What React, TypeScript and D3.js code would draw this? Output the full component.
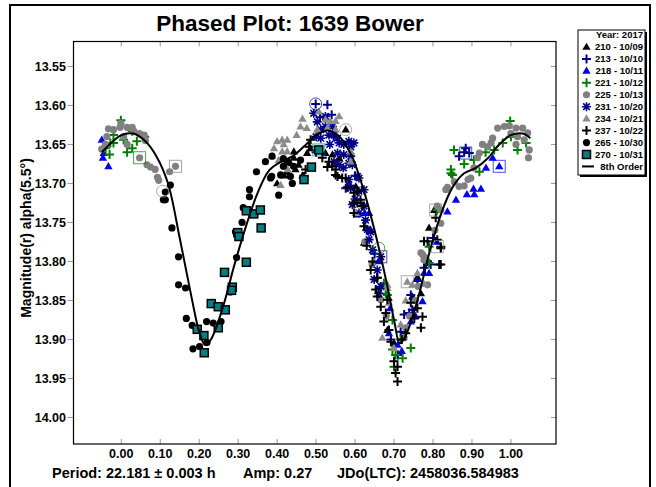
import React from "react";
import * as d3 from "d3";

// ---- data: phase (0..1) and reduced magnitude per session ----
const xTicks = [0, 0.1, 0.2, 0.3, 0.4, 0.5, 0.6, 0.7, 0.8, 0.9, 1.0];
const yTicks = [13.55, 13.6, 13.65, 13.7, 13.75, 13.8, 13.85, 13.9, 13.95, 14.0];

const s210: [number, number][] = [
  [0.443, 13.659], [0.443, 13.667], [0.434, 13.674], [0.447, 13.682], [0.477, 13.661], [0.486, 13.655],
  [0.426, 13.685], [0.576, 13.631], [0.524, 13.661], [0.542, 13.663], [0.602, 13.704], [0.623, 13.776],
  [0.79, 13.757], [0.747, 13.845], [0.769, 13.841], [0.683, 13.888], [0.803, 13.734], [0.455, 13.676],
  [0.465, 13.69], [0.418, 13.69], [0.4, 13.7], [0.56, 13.668], [0.64, 13.76], [0.76, 13.82], [0.7, 13.905],
];
const s213: [number, number][] = [
  [0.499, 13.598], [0.529, 13.599], [0.576, 13.706], [0.614, 13.725], [0.884, 13.655], [0.88, 13.66],
  [0.867, 13.665], [0.893, 13.661], [0.777, 13.808], [0.726, 13.868], [0.739, 13.866], [0.747, 13.862],
  [0.717, 13.89], [0.743, 13.843], [0.657, 13.821], [0.666, 13.834], [0.692, 13.9], [0.794, 13.804],
  [0.51, 13.615], [0.54, 13.612], [0.6, 13.69], [0.63, 13.76], [0.65, 13.79], [0.76, 13.825],
  [0.785, 13.8], [0.8, 13.77], [0.71, 13.92], [0.545, 13.64],
];
const s218: [number, number][] = [
  [-0.047, 13.667], [-0.033, 13.678], [-0.05, 13.644], [-0.045, 13.661], [0.97, 13.678], [0.887, 13.714],
  [0.906, 13.714], [0.923, 13.707], [0.904, 13.707], [0.953, 13.667], [0.936, 13.68], [0.859, 13.721],
  [0.837, 13.736], [0.79, 13.815], [0.636, 13.738], [0.743, 13.877], [0.773, 13.851], [0.777, 13.815],
  [0.687, 13.892], [0.709, 13.907], [0.606, 13.74], [0.625, 13.738], [0.755, 13.87], [0.72, 13.915],
  [0.81, 13.775], [0.66, 13.8], [0.585, 13.7], [0.69, 13.86],
];
const s221: [number, number][] = [
  [-0.001, 13.619], [-0.02, 13.638], [0.006, 13.644], [0.028, 13.633], [0.04, 13.646], [0.015, 13.66],
  [0.028, 13.655], [-0.028, 13.648], [-0.03, 13.663], [-0.02, 13.648], [0.998, 13.62], [1.017, 13.657],
  [1.039, 13.648], [0.854, 13.657], [0.979, 13.648], [0.957, 13.657], [0.846, 13.682], [0.85, 13.689],
  [0.919, 13.685], [0.811, 13.734], [0.674, 13.83], [0.683, 13.843], [0.79, 13.781], [0.846, 13.687],
  [0.674, 13.828], [0.679, 13.841], [0.696, 13.875], [0.696, 13.913], [0.704, 13.92], [0.722, 13.924],
  [0.743, 13.911], [0.717, 13.9], [0.79, 13.802], [0.7, 13.935], [0.88, 13.675], [0.905, 13.67],
  [0.935, 13.66], [1.0, 13.64], [0.06, 13.64], [-0.04, 13.655],
];
const s225: [number, number][] = [
  [-0.033, 13.63], [-0.02, 13.631], [-0.003, 13.628], [-0.001, 13.623], [0.015, 13.628], [0.028, 13.628],
  [0.032, 13.633], [0.047, 13.636], [0.059, 13.638], [0.062, 13.645], [0.006, 13.64], [0.015, 13.65],
  [-0.041, 13.65], [-0.05, 13.656], [-0.037, 13.64], [0.047, 13.667], [0.066, 13.676], [0.075, 13.679],
  [0.087, 13.682], [0.093, 13.692], [0.096, 13.696], [0.124, 13.685], [0.139, 13.678],
  [0.966, 13.629], [0.983, 13.627], [0.996, 13.626], [1.013, 13.629], [1.03, 13.629], [1.043, 13.635],
  [1.0, 13.636], [1.017, 13.64], [1.034, 13.644], [1.047, 13.657], [1.045, 13.667], [1.013, 13.65],
  [0.953, 13.642], [0.949, 13.648], [0.94, 13.653], [0.927, 13.65], [0.919, 13.661], [0.914, 13.667],
  [0.897, 13.693], [0.88, 13.703], [0.867, 13.704], [0.837, 13.705], [0.833, 13.708], [0.82, 13.734],
  [0.82, 13.751], [0.773, 13.791], [0.777, 13.798], [0.811, 13.729], [0.769, 13.789], [0.781, 13.795],
  [0.786, 13.83], [0.762, 13.832], [0.644, 13.804], [0.666, 13.849], [0.726, 13.898], [0.905, 13.68],
  [0.89, 13.695], [0.855, 13.698], [0.805, 13.76], [0.755, 13.85], [0.74, 13.87], [0.73, 13.885],
  [0.68, 13.87], [0.625, 13.775],
];
const s231: [number, number][] = [
  [0.494, 13.61], [0.503, 13.621], [0.512, 13.631], [0.524, 13.614], [0.524, 13.627], [0.542, 13.627],
  [0.533, 13.638], [0.546, 13.638], [0.555, 13.642], [0.559, 13.648], [0.571, 13.65], [0.584, 13.646],
  [0.589, 13.653], [0.597, 13.648], [0.555, 13.661], [0.571, 13.663], [0.589, 13.665], [0.584, 13.674],
  [0.593, 13.676], [0.606, 13.691], [0.61, 13.693], [0.584, 13.695], [0.546, 13.672], [0.559, 13.676],
  [0.512, 13.642], [0.589, 13.706], [0.61, 13.71], [0.623, 13.708], [0.593, 13.727], [0.623, 13.729],
  [0.61, 13.738], [0.627, 13.747], [0.632, 13.759], [0.64, 13.762], [0.636, 13.772], [0.666, 13.794],
  [0.657, 13.811], [0.649, 13.823], [0.666, 13.832], [0.661, 13.841], [0.5, 13.64], [0.535, 13.65],
  [0.57, 13.68], [0.6, 13.72], [0.645, 13.785],
];
const s234: [number, number][] = [
  [0.465, 13.617], [0.46, 13.627], [0.476, 13.629], [0.45, 13.638], [0.426, 13.644], [0.413, 13.644],
  [0.4, 13.646], [0.392, 13.655], [0.417, 13.65], [0.426, 13.659], [0.413, 13.659], [0.387, 13.665],
  [0.404, 13.67], [0.417, 13.674], [0.409, 13.702], [0.427, 13.682], [0.507, 13.608], [0.524, 13.618],
  [0.537, 13.62], [0.559, 13.614], [0.55, 13.62], [0.503, 13.631], [0.529, 13.629], [0.55, 13.631],
  [0.589, 13.659], [0.589, 13.672], [0.602, 13.738], [0.683, 13.83], [0.687, 13.847], [0.734, 13.826],
  [0.683, 13.834], [0.687, 13.853], [0.67, 13.898], [0.717, 13.881], [0.777, 13.829], [0.747, 13.83],
  [0.7, 13.911], [0.76, 13.815], [0.73, 13.85],
];
const s237: [number, number][] = [
  [0.486, 13.644], [0.516, 13.667], [0.533, 13.672], [0.529, 13.679], [0.542, 13.678], [0.55, 13.682],
  [0.555, 13.691], [0.567, 13.693], [0.473, 13.682], [0.469, 13.691], [0.482, 13.653], [0.606, 13.71],
  [0.614, 13.721], [0.597, 13.725], [0.619, 13.729], [0.55, 13.689], [0.576, 13.693], [0.597, 13.712],
  [0.606, 13.725], [0.597, 13.738], [0.623, 13.755], [0.64, 13.811], [0.657, 13.821], [0.653, 13.836],
  [0.786, 13.774], [0.811, 13.772], [0.82, 13.783], [0.816, 13.804], [0.773, 13.871], [0.769, 13.885],
  [0.752, 13.873], [0.743, 13.853], [0.73, 13.892], [0.683, 13.849], [0.657, 13.845], [0.666, 13.858],
  [0.679, 13.866], [0.674, 13.877], [0.687, 13.888], [0.692, 13.903], [0.709, 13.935], [0.704, 13.943],
  [0.709, 13.954], [0.7, 13.928], [0.777, 13.774], [0.82, 13.781], [0.82, 13.804], [0.807, 13.744],
  [0.5, 13.66], [0.58, 13.705], [0.63, 13.78], [0.645, 13.8], [0.76, 13.86], [0.72, 13.9],
];
const s265: [number, number][] = [
  [0.126, 13.702], [0.108, 13.721], [0.13, 13.757], [0.147, 13.794], [0.147, 13.83], [0.165, 13.834],
  [0.167, 13.873], [0.182, 13.882], [0.201, 13.909], [0.184, 13.912], [0.22, 13.904], [0.219, 13.877],
  [0.236, 13.879], [0.256, 13.877], [0.28, 13.839], [0.296, 13.795], [0.31, 13.75], [0.313, 13.731],
  [0.329, 13.717], [0.329, 13.708], [0.347, 13.685], [0.386, 13.691], [0.439, 13.7], [0.293, 13.762],
  [0.113, 13.711], [0.113, 13.721], [0.37, 13.672], [0.387, 13.665], [0.383, 13.693], [0.404, 13.715],
  [0.409, 13.689], [0.416, 13.678], [0.426, 13.672], [0.434, 13.691], [0.442, 13.678], [0.46, 13.67],
  [0.416, 13.668],
];
const s270: [number, number][] = [
  [0.195, 13.887], [0.212, 13.895], [0.213, 13.917], [0.231, 13.854], [0.249, 13.858], [0.267, 13.862],
  [0.249, 13.885], [0.265, 13.814], [0.285, 13.833], [0.283, 13.837], [0.299, 13.763], [0.302, 13.768],
  [0.321, 13.801], [0.321, 13.735], [0.34, 13.739], [0.357, 13.734], [0.359, 13.757], [0.469, 13.695],
  [0.488, 13.679], [0.507, 13.657],
];

// 8th-order Fourier fit, sampled along phase
const fitPhase = [
  -0.05, -0.03, 0.0, 0.03, 0.06, 0.09, 0.12, 0.15, 0.18, 0.2, 0.215, 0.23, 0.26, 0.29, 0.32, 0.35, 0.38,
  0.41, 0.44, 0.47, 0.5, 0.53, 0.56, 0.59, 0.62, 0.65, 0.68, 0.7, 0.715, 0.73, 0.76, 0.79, 0.82, 0.85,
  0.88, 0.91, 0.94, 0.97, 1.0, 1.03, 1.05,
];
const fitMag = [
  13.66, 13.65, 13.638, 13.636, 13.645, 13.665, 13.7, 13.77, 13.845, 13.89, 13.907, 13.9, 13.86, 13.805,
  13.755, 13.712, 13.683, 13.672, 13.665, 13.652, 13.638, 13.632, 13.64, 13.663, 13.705, 13.76, 13.825,
  13.875, 13.905, 13.895, 13.85, 13.79, 13.74, 13.705, 13.687, 13.68, 13.668, 13.65, 13.638, 13.636,
  13.642,
];

// points rejected from the fit: [session, phase, mag]
const rejectedSquare: [string, number, number][] = [
  ["221", 0.047, 13.667], ["225", 0.139, 13.678], ["270", 0.507, 13.657], ["231", 0.666, 13.794],
  ["234", 0.734, 13.826], ["225", 0.807, 13.734], ["237", 0.811, 13.781], ["213", 0.884, 13.661],
  ["218", 0.97, 13.678],
];
const rejectedCircle: [string, number, number][] = [
  ["265", 0.106, 13.71], ["213", 0.499, 13.598], ["210", 0.576, 13.631], ["221", 0.661, 13.783],
];

const sessions = ["210", "213", "218", "221", "225", "231", "234", "237", "265", "270"];
const sessionDates = ["10/09", "10/10", "10/11", "10/12", "10/13", "10/20", "10/21", "10/22", "10/30", "10/31"];
const sessionData = [s210, s213, s218, s221, s225, s231, s234, s237, s265, s270];

const title = "Phased Plot: 1639 Bower";
const yLabel = "Magnitude(r) alpha(5.5°)";
const footer = ["Period: 22.181 ± 0.003 h", "Amp: 0.27", "JDo(LTC): 2458036.584983"];

// ---- styling ----
type Kind = "tri" | "plus" | "circle" | "star" | "square";
const style: Record<string, { kind: Kind; color: string }> = {
  "210": { kind: "tri", color: "#000000" },
  "213": { kind: "plus", color: "#00008b" },
  "218": { kind: "tri", color: "#0000ee" },
  "221": { kind: "plus", color: "#008000" },
  "225": { kind: "circle", color: "#808080" },
  "231": { kind: "star", color: "#00008b" },
  "234": { kind: "tri", color: "#8c8c8c" },
  "237": { kind: "plus", color: "#000000" },
  "265": { kind: "circle", color: "#000000" },
  "270": { kind: "square", color: "#008080" },
};

const W = 656;
const H = 487;
const PX0 = 73.5, PX1 = 556, PY0 = 41.5, PY1 = 444;
const FONT = "'Liberation Sans', Arial, sans-serif";

const x = d3.scaleLinear().domain([-0.1226, 1.1157]).range([PX0, PX1]);
const y = d3.scaleLinear().domain([13.518, 14.034]).range([PY0, PY1]);

const triPath = d3.symbol(d3.symbolTriangle, 30)() as string;

function Marker({ kind, color, cx, cy }: { kind: Kind; color: string; cx: number; cy: number }) {
  const t = `translate(${cx},${cy})`;
  switch (kind) {
    case "tri":
      return <path d={triPath} transform={`translate(${cx},${cy + 0.5})`} fill={color} />;
    case "circle":
      return <circle cx={cx} cy={cy} r={3.6} fill={color} />;
    case "plus":
      return (
        <path d="M-4.5,0H4.5M0,-4.5V4.5" transform={t} stroke={color} strokeWidth={2} fill="none" />
      );
    case "star":
      return (
        <path
          d="M-4.5,0H4.5M0,-4.5V4.5M-3.3,-3.3L3.3,3.3M-3.3,3.3L3.3,-3.3"
          transform={t}
          stroke={color}
          strokeWidth={1.6}
          fill="none"
        />
      );
    case "square":
      return (
        <rect x={cx - 4} y={cy - 4} width={8} height={8} fill={color} stroke="#000" strokeWidth={1.5} />
      );
  }
}

export default function App() {
  const fitLine = d3
    .line<number>()
    .x((_, i) => x(fitPhase[i]))
    .y((m) => y(m))
    .curve(d3.curveCatmullRom.alpha(0.5));

  const legendTop = 38.3;
  const legendStep = 11.95;

  return (
    <svg
      width={W}
      height={H}
      style={{ position: "absolute", left: 0, top: 0, background: "#fff" }}
      fontFamily={FONT}
    >
      <rect x={0} y={0} width={W} height={H} fill="#fff" />
      {/* outer frame */}
      <path d={`M10,${H}V5H650V${H}`} fill="none" stroke="#000" strokeWidth={2} />

      <text x={290} y={31} textAnchor="middle" fontSize={22.5} fontWeight="bold">
        {title}
      </text>

      {/* ticks */}
      {xTicks.map((t) => (
        <g key={"xt" + t}>
          <line x1={x(t)} x2={x(t)} y1={PY1} y2={PY1 - 5} stroke="#999" />
          <line x1={x(t)} x2={x(t)} y1={PY0} y2={PY0 + 5} stroke="#999" />
          <text x={x(t)} y={457.5} textAnchor="middle" fontSize={12.5} fontWeight="bold">
            {t.toFixed(2)}
          </text>
        </g>
      ))}
      {yTicks.map((t) => (
        <g key={"yt" + t}>
          <line x1={PX0 - 6} x2={PX0} y1={y(t)} y2={y(t)} stroke="#999" />
          <line x1={PX1 - 5} x2={PX1} y1={y(t)} y2={y(t)} stroke="#999" />
          <text x={66} y={y(t) + 4.5} textAnchor="end" fontSize={12.5} fontWeight="bold">
            {t.toFixed(2)}
          </text>
        </g>
      ))}

      <text
        transform={`translate(31,238) rotate(-90)`}
        textAnchor="middle"
        fontSize={14}
        fontWeight="bold"
      >
        {yLabel}
      </text>

      {/* observations */}
      {sessions.map((s, si) => (
        <g key={"s" + s}>
          {sessionData[si].map(([p, m], i) => (
            <Marker key={i} kind={style[s].kind} color={style[s].color} cx={x(p)} cy={y(m)} />
          ))}
        </g>
      ))}

      {rejectedSquare.map(([s, p, m], i) => (
        <rect
          key={"rs" + i}
          x={x(p) - 6}
          y={y(m) - 6}
          width={12}
          height={12}
          fill="none"
          stroke={style[s].color === "#000000" ? "#888" : style[s].color}
          strokeOpacity={0.7}
          strokeWidth={1}
        />
      ))}
      {rejectedCircle.map(([s, p, m], i) => (
        <circle
          key={"rc" + i}
          cx={x(p)}
          cy={y(m)}
          r={6}
          fill="none"
          stroke={style[s].color === "#000000" ? "#888" : style[s].color}
          strokeOpacity={0.7}
          strokeWidth={1}
        />
      ))}

      <path d={fitLine(fitMag) as string} fill="none" stroke="#000" strokeWidth={2} />

      {/* plot frame */}
      <rect x={PX0} y={PY0} width={PX1 - PX0} height={PY1 - PY0} fill="none" stroke="#000" strokeWidth={1.2} />

      {/* footer */}
      <text x={52} y={478} fontSize={14.5} fontWeight="bold">
        {footer[0]}
      </text>
      <text x={243} y={478} fontSize={14.5} fontWeight="bold">
        {footer[1]}
      </text>
      <text x={337} y={478} fontSize={14.5} fontWeight="bold">
        {footer[2]}
      </text>

      {/* legend */}
      <rect x={580} y={32} width={67} height={145} fill="#000" />
      <rect x={578} y={30} width={67} height={145} fill="#fff" stroke="#000" strokeWidth={1} />
      <text x={643} y={legendTop} textAnchor="end" fontSize={9.5} fontWeight="bold">
        Year: 2017
      </text>
      {sessions.map((s, i) => {
        const by = legendTop + (i + 1) * legendStep;
        return (
          <g key={"lg" + s}>
            <Marker kind={style[s].kind} color={style[s].color} cx={586.5} cy={by - 3.3} />
            <text x={643} y={by} textAnchor="end" fontSize={9.5} fontWeight="bold">
              {`${s} - ${sessionDates[i]}`}
            </text>
          </g>
        );
      })}
      <line
        x1={582}
        x2={594}
        y1={legendTop + 11 * legendStep - 3.3}
        y2={legendTop + 11 * legendStep - 3.3}
        stroke="#000"
        strokeWidth={2}
      />
      <text x={643} y={legendTop + 11 * legendStep} textAnchor="end" fontSize={9.5} fontWeight="bold">
        8th Order
      </text>
    </svg>
  );
}
